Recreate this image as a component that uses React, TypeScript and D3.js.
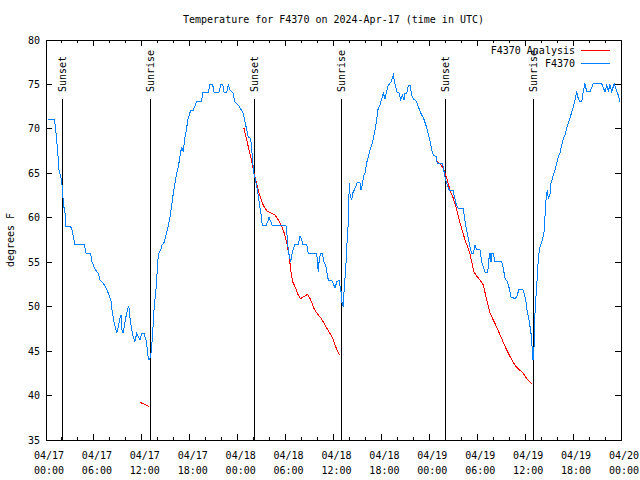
import React from "react";
import * as d3 from "d3";

// hours after 2024-04-17 00:00 UTC, degrees F
const observed: [number, number][] = [
  [0.2, 71.1], [1.05, 71.1], [1.2, 70.1], [1.46, 67.5], [1.63, 65.4], [1.88, 64.5],
  [2.04, 63.5], [2.17, 61.6], [2.38, 60.5], [2.5, 59.0], [3.09, 59.0], [3.26, 58.6],
  [3.38, 58.1], [3.63, 57.0], [4.8, 57.0], [5.01, 56.0], [5.6, 56.0], [5.72, 55.1],
  [6.01, 54.5], [6.22, 54.1], [6.55, 53.75], [6.76, 53.0], [7.18, 52.6], [7.6, 52.0],
  [7.89, 51.3], [8.14, 50.6], [8.3, 49.4], [8.51, 48.3], [8.72, 47.6], [8.85, 47.0],
  [9.05, 47.75], [9.26, 48.7], [9.39, 49.1], [9.52, 47.4], [9.64, 47.0], [9.77, 47.6],
  [9.93, 48.5], [10.18, 49.6], [10.36, 50.1], [10.52, 48.7], [10.73, 47.4], [10.93, 46.6],
  [11.14, 46.1], [11.36, 47.0], [11.56, 46.6], [11.77, 46.25], [11.98, 47.0], [12.27, 47.0],
  [12.52, 46.25], [12.68, 45.3], [12.77, 44.45], [12.9, 44.0], [13.11, 44.45], [13.23, 45.5],
  [13.36, 47.0], [13.48, 49.1], [13.61, 50.6], [13.73, 51.5], [13.86, 53.0], [13.99, 55.1],
  [14.11, 56.0], [14.36, 56.4], [14.52, 56.9], [14.77, 57.2], [15.03, 58.1], [15.19, 58.6],
  [15.53, 60.1], [15.74, 61.4], [15.94, 62.75], [16.15, 63.9], [16.37, 65.0], [16.57, 65.75],
  [16.78, 66.9], [16.99, 68.0], [17.19, 67.4], [17.4, 69.1], [17.62, 70.1], [17.74, 71.0],
  [17.94, 71.56], [18.12, 72.1], [18.44, 72.1], [18.87, 73.06], [19.49, 73.06], [19.62, 74.1],
  [20.32, 74.1], [20.53, 75.0], [20.87, 75.0], [21.04, 74.1], [21.66, 74.1], [21.88, 75.0],
  [22.13, 75.0], [22.29, 74.1], [22.63, 74.1], [22.83, 75.0], [23.04, 74.4], [23.42, 74.0],
  [23.63, 73.06], [24.05, 72.7], [24.48, 72.1], [24.71, 71.75], [24.92, 70.8], [25.13, 69.9],
  [25.33, 69.1], [25.63, 68.9], [25.76, 67.6], [25.88, 66.5], [25.96, 65.4], [26.08, 64.8],
  [26.3, 63.9], [26.51, 62.9], [26.71, 61.6], [26.92, 60.5], [27.08, 59.1], [27.55, 59.1],
  [27.76, 59.56], [27.92, 60.06], [28.14, 59.56], [28.34, 59.1], [30.05, 59.1], [30.14, 58.25],
  [30.27, 57.5], [30.3, 56.75], [30.47, 55.6], [30.64, 55.06], [30.77, 55.8], [30.97, 56.56],
  [31.18, 57.0], [31.59, 57.0], [31.81, 57.95], [32.02, 57.5], [32.14, 57.0], [32.64, 57.0],
  [32.84, 56.0], [33.9, 56.0], [34.02, 54.5], [34.1, 53.9], [34.22, 55.4], [34.4, 56.0],
  [34.6, 56.0], [34.81, 55.06], [35.06, 54.5], [35.22, 53.6], [35.35, 53.0], [35.77, 53.0],
  [35.98, 52.6], [36.19, 52.06], [36.4, 52.8], [36.69, 53.0], [36.94, 51.7], [37.03, 50.56],
  [37.23, 50.0], [37.35, 52.25], [37.53, 54.1], [37.65, 56.75], [37.73, 57.5], [37.85, 59.56],
  [37.98, 63.95], [38.07, 62.6], [38.28, 62.0], [38.4, 62.75], [38.69, 63.3], [38.98, 63.95],
  [39.32, 63.95], [39.44, 63.1], [39.66, 63.9], [39.73, 64.6], [39.94, 65.0], [40.16, 66.2],
  [40.36, 66.9], [40.57, 67.6], [40.78, 68.2], [40.98, 68.9], [41.2, 69.9], [41.41, 71.0],
  [41.54, 72.1], [41.82, 72.7], [42.04, 73.4], [42.24, 74.0], [42.45, 73.4], [42.66, 74.2],
  [42.86, 74.9], [43.2, 75.3], [43.49, 76.06], [43.7, 75.1], [43.91, 74.2], [44.24, 74.0],
  [44.42, 73.25], [44.62, 73.8], [44.83, 73.25], [44.95, 74.0], [45.17, 74.0], [45.37, 74.9],
  [45.58, 74.9], [45.79, 73.8], [45.99, 73.4], [46.42, 73.06], [46.62, 72.5], [46.83, 72.0],
  [47.04, 71.56], [47.24, 71.3], [47.58, 70.4], [47.87, 69.4], [48.08, 68.7], [48.3, 67.6],
  [48.5, 67.06], [48.84, 66.9], [49.0, 66.06], [49.67, 66.06], [49.84, 65.2], [49.96, 64.6],
  [50.17, 63.9], [50.5, 63.1], [51.0, 63.1], [51.13, 62.4], [51.34, 61.6], [51.63, 61.06],
  [52.25, 61.06], [52.38, 60.1], [52.59, 59.0], [52.88, 57.7], [53.09, 56.75], [53.31, 56.0],
  [53.51, 56.0], [53.72, 56.9], [53.93, 56.4], [54.34, 56.4], [54.56, 55.06], [54.76, 54.5],
  [54.97, 53.9], [55.31, 53.9], [55.47, 55.4], [55.6, 56.0], [55.72, 55.06], [55.85, 56.0],
  [56.01, 56.0], [56.22, 55.06], [57.06, 55.06], [57.26, 54.3], [57.48, 53.2], [57.76, 52.8],
  [58.01, 52.06], [58.23, 51.1], [58.73, 50.9], [58.94, 51.1], [59.23, 51.97], [59.69, 51.97],
  [59.89, 51.5], [60.1, 50.56], [60.27, 49.4], [60.48, 48.5], [60.61, 47.75], [60.73, 47.0],
  [60.86, 45.5], [60.98, 44.0], [61.11, 45.5], [61.19, 48.5], [61.32, 50.75], [61.44, 52.25],
  [61.64, 55.25], [61.77, 56.4], [61.94, 56.9], [62.2, 57.7], [62.4, 58.6], [62.48, 60.1],
  [62.61, 62.0], [62.77, 63.1], [62.9, 62.1], [63.11, 62.7], [63.24, 63.9], [63.52, 64.8],
  [63.74, 65.4], [63.95, 66.1], [64.15, 66.9], [64.36, 67.25], [64.57, 68.2], [64.78, 68.9],
  [64.99, 69.3], [65.2, 70.06], [65.4, 70.6], [65.61, 71.2], [65.83, 71.9], [66.03, 72.5],
  [66.24, 73.25], [66.45, 74.2], [66.65, 73.4], [66.87, 73.06], [67.08, 73.06], [67.28, 74.2],
  [67.49, 75.1], [67.7, 74.2], [68.12, 74.2], [68.53, 75.1], [69.58, 75.1], [69.79, 74.6],
  [70.0, 74.2], [70.21, 74.9], [70.41, 74.2], [70.62, 75.0], [70.83, 74.2], [71.16, 75.1],
  [71.46, 74.2], [71.66, 73.8], [71.88, 73.06],
];

const analysisDay1: [number, number][] = [[11.77, 39.24], [12.35, 39.0], [12.9, 38.75]];

const analysisDay2: [number, number][] = [
  [24.79, 70.06], [25.04, 69.1], [25.33, 68.0], [25.63, 66.9], [25.88, 65.75], [26.17, 64.6],
  [26.46, 63.5], [26.8, 62.4], [27.21, 61.4], [27.64, 60.8], [28.05, 60.6], [28.68, 60.3],
  [29.09, 59.75], [29.51, 59.1], [29.84, 58.25], [30.14, 57.2], [30.47, 55.6], [30.64, 54.1],
  [30.89, 52.8], [31.18, 52.25], [31.59, 51.3], [31.89, 50.9], [32.22, 51.1], [32.77, 51.4],
  [33.15, 50.75], [33.56, 49.8], [33.97, 49.2], [34.52, 48.6], [35.06, 47.75], [35.56, 47.0],
  [35.98, 46.25], [36.31, 45.4], [36.73, 44.6],
];

const analysisDay3: [number, number][] = [
  [48.92, 66.4], [49.34, 66.06], [49.75, 65.56], [49.96, 65.0], [50.25, 64.25], [50.59, 63.1],
  [51.0, 62.2], [51.43, 60.9], [51.75, 59.75], [52.05, 58.8], [52.47, 57.5], [53.01, 56.2],
  [53.31, 55.06], [53.59, 53.9], [53.93, 53.45], [54.34, 53.0], [54.76, 52.45], [55.18, 50.75],
  [55.6, 49.25], [56.01, 48.5], [56.51, 47.56], [57.06, 46.4], [57.6, 45.3], [58.1, 44.4],
  [58.73, 43.4], [59.27, 42.9], [59.77, 42.5], [60.27, 41.8], [60.82, 41.3],
];

const sunEvents: { hour: number; label: string }[] = [
  { hour: 2.05, label: "Sunset" },
  { hour: 13.05, label: "Sunrise" },
  { hour: 26.08, label: "Sunset" },
  { hour: 36.95, label: "Sunrise" },
  { hour: 50.0, label: "Sunset" },
  { hour: 61.02, label: "Sunrise" },
];

const yTicks = [35, 40, 45, 50, 55, 60, 65, 70, 75, 80];

const START = Date.UTC(2024, 3, 17, 0, 0);
const toDate = (h: number) => new Date(START + h * 3600000);

const W = 640;
const H = 480;
const m = { left: 46, right: 621, top: 40, bottom: 440 };
const FONT = "DejaVu Sans Mono";
const BLUE = "#0080ff";
const RED = "#ff0000";

export default function App() {
  const x = d3.scaleUtc().domain([toDate(0), toDate(72)]).range([m.left, m.right]);
  const y = d3.scaleLinear().domain([35, 80]).range([m.bottom, m.top]);

  const line = d3
    .line<[number, number]>()
    .x((d) => x(toDate(d[0])))
    .y((d) => y(d[1]));

  const major = x.ticks(d3.utcHour.every(6)!);
  const minor = x.ticks(d3.utcHour.every(2)!);
  const fmtDay = d3.utcFormat("%m/%d");
  const fmtTime = d3.utcFormat("%H:%M");

  return (
    <svg
      width={W}
      height={H}
      style={{ position: "absolute", left: 0, top: 0, background: "#fff" }}
      fontFamily={FONT}
      fontSize={10}
    >
      <rect width={W} height={H} fill="#fff" />
      <text x={(m.left + m.right) / 2} y={23} textAnchor="middle">
        Temperature for F4370 on 2024-Apr-17 (time in UTC)
      </text>

      {/* ticks mirrored on all four sides */}
      <g shapeRendering="crispEdges" stroke="#000">
        {yTicks.map((t) => (
          <g key={t}>
            <line x1={m.left} x2={m.left + 6} y1={y(t)} y2={y(t)} />
            <line x1={m.right} x2={m.right - 6} y1={y(t)} y2={y(t)} />
          </g>
        ))}
        {minor.map((t) => {
          const isMajor = t.getUTCHours() % 6 === 0;
          const len = isMajor ? 6 : 3;
          return (
            <g key={+t}>
              <line x1={x(t)} x2={x(t)} y1={m.bottom} y2={m.bottom - len} />
              <line x1={x(t)} x2={x(t)} y1={m.top} y2={m.top + len} />
            </g>
          );
        })}
      </g>
      {yTicks.map((t) => (
        <text key={t} x={40} y={y(t)} textAnchor="end" dominantBaseline="central">
          {t}
        </text>
      ))}
      {major.map((t) => (
        <g key={+t}>
          <text x={x(t) + 3} y={459} textAnchor="middle">{fmtDay(t)}</text>
          <text x={x(t) + 3} y={474} textAnchor="middle">{fmtTime(t)}</text>
        </g>
      ))}
      <text
        transform={`translate(14,${(m.top + m.bottom) / 2}) rotate(-90)`}
        textAnchor="middle"
      >
        degrees F
      </text>

      {/* sunrise / sunset markers */}
      {sunEvents.map((s, i) => {
        const sx = x(toDate(s.hour));
        return (
          <line
            key={i}
            x1={sx} x2={sx} y1={99} y2={m.bottom}
            stroke="#000" shapeRendering="crispEdges"
          />
        );
      })}

      <g fill="none" strokeWidth={1} shapeRendering="crispEdges">
        <path d={line(analysisDay1) ?? ""} stroke={RED} />
        <path d={line(analysisDay2) ?? ""} stroke={RED} />
        <path d={line(analysisDay3) ?? ""} stroke={RED} />
        <path d={line(observed) ?? ""} stroke={BLUE} />
      </g>

      {/* legend */}
      <text x={575} y={50} textAnchor="end" dominantBaseline="central">F4370 Analysis</text>
      <line x1={581} x2={610} y1={50} y2={50} stroke={RED} shapeRendering="crispEdges" />
      <text x={575} y={63} textAnchor="end" dominantBaseline="central">F4370</text>
      <line x1={581} x2={610} y1={63} y2={63} stroke={BLUE} shapeRendering="crispEdges" />

      {sunEvents.map((s, i) => {
        const sx = x(toDate(s.hour));
        return (
          <text key={i} transform={`translate(${sx + 4},92) rotate(-90)`}>
            {s.label}
          </text>
        );
      })}

      <rect
        x={m.left} y={m.top} width={m.right - m.left} height={m.bottom - m.top}
        fill="none" stroke="#000" shapeRendering="crispEdges"
      />
    </svg>
  );
}
